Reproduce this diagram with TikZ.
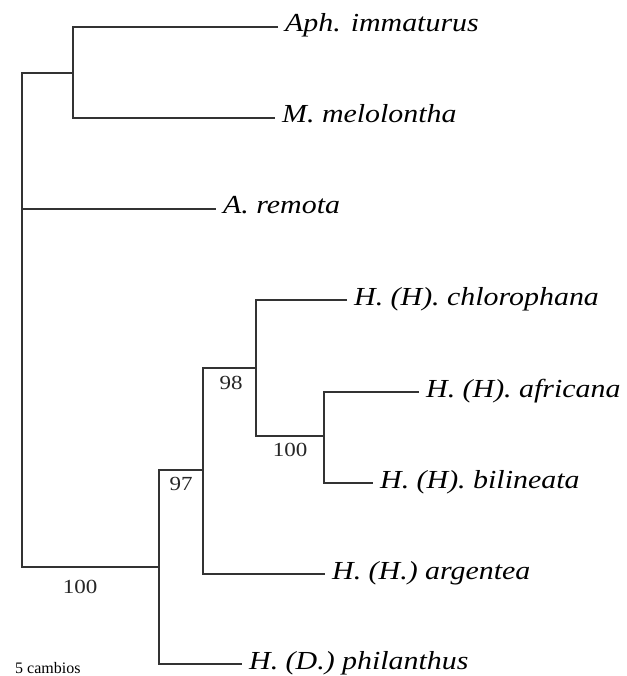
\documentclass[tikz,border=0pt]{standalone}
\usepackage{fontspec}
\setmainfont{Liberation Serif}
\newfontfamily\taxonfont[FakeStretch=1.15]{Liberation Serif}
\tikzset{
  branch/.style={line width=1.3pt, black!80},
  taxon/.style={anchor=base west, inner sep=0pt, xshift=7pt, yshift=-5pt, font=\taxonfont\itshape\fontsize{26}{31}\selectfont},
  boot/.style={inner sep=0pt, black!85, font=\taxonfont\fontsize{20}{24}\selectfont},
}

\begin{document}
\begin{tikzpicture}[x=1pt, y=-1pt]
        \useasboundingbox (0,0) rectangle (626,676);
        \coordinate (root) at (22,567);
        \coordinate (nAM) at (73,73);
        \coordinate (nH) at (159,567);
        \coordinate (n97) at (203,470);
        \coordinate (n98) at (256,368);
        \coordinate (n100) at (324,436);
        \coordinate (tAph) at (278,27);
        \coordinate (tMel) at (275,118);
        \coordinate (tRem) at (216,209);
        \coordinate (tChl) at (347,300);
        \coordinate (tAfr) at (419,392);
        \coordinate (tBil) at (373,483);
        \coordinate (tArg) at (325,574);
        \coordinate (tPhi) at (242,664);
        \draw[branch] (nAM) -| (root) -- (nH);
        \draw[branch] (root |- tRem) -- (tRem);
        \draw[branch] (tAph) -| (nAM) |- (tMel);
        \draw[branch] (n97) -| (nH) |- (tPhi);
        \draw[branch] (n98) -| (n97) |- (tArg);
        \draw[branch] (tChl) -| (n98) |- (n100);
        \draw[branch] (tAfr) -| (n100) |- (tBil);
        \node[taxon] (aph) at (tAph) {Aph. immaturus};
        \node[taxon] (mel) at (tMel) {M. melolontha};
        \node[taxon] (rem) at (tRem) {A. remota};
        \node[taxon] (chl) at (tChl) {H. (H). chlorophana};
        \node[taxon] (afr) at (tAfr) {H. (H). africana};
        \node[taxon] (bil) at (tBil) {H. (H). bilineata};
        \node[taxon] (arg) at (tArg) {H. (H.) argentea};
        \node[taxon] (phi) at (tPhi) {H. (D.) philanthus};
        \node[boot] (b98) at (231,383) {98};
        \node[boot] (b100a) at (290,450) {100};
        \node[boot] (b97) at (181,484) {97};
        \node[boot] (b100b) at (80,587) {100};
        \node[inner sep=0pt, anchor=base west, font=\fontsize{16}{19}\selectfont] (scale) at (15,673) {5 cambios};
    \end{tikzpicture}
\end{document}
